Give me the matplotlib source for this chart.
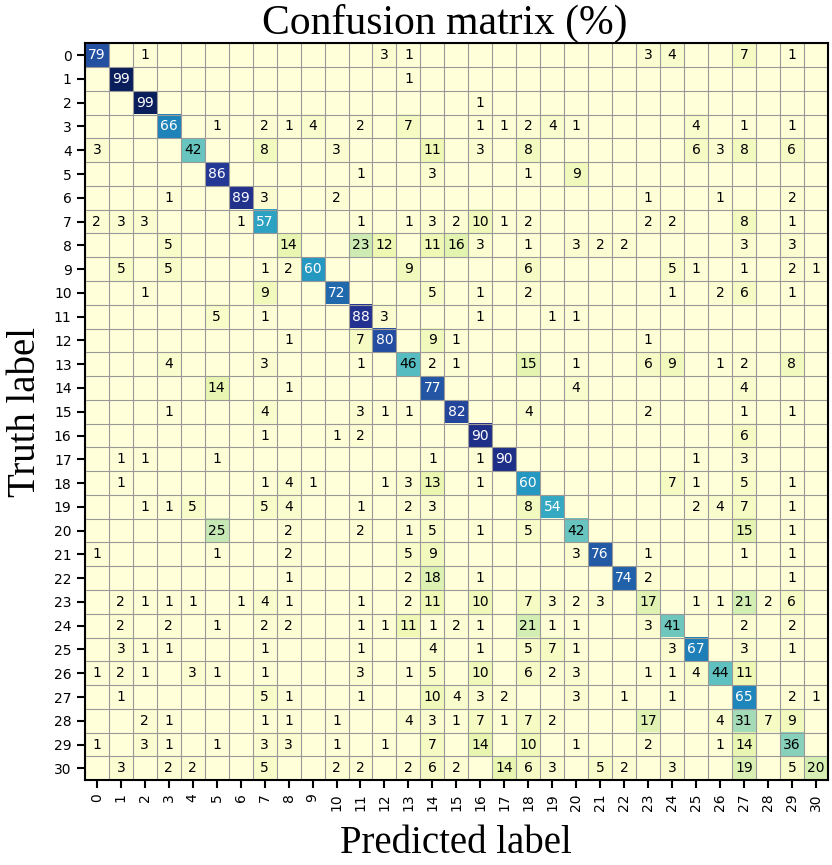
import numpy as np
import matplotlib
matplotlib.use("Agg")
import matplotlib.pyplot as plt

labels = [str(i) for i in range(31)]

# confusion matrix in percent, one row per truth label
cm = [
    [79, 0, 1, 0, 0, 0, 0, 0, 0, 0,  0, 0, 3, 1, 0, 0, 0, 0, 0, 0,  0, 0, 0, 3, 4, 0, 0, 7, 0, 1, 0],
    [0, 99, 0, 0, 0, 0, 0, 0, 0, 0,  0, 0, 0, 1, 0, 0, 0, 0, 0, 0,  0, 0, 0, 0, 0, 0, 0, 0, 0, 0, 0],
    [0, 0, 99, 0, 0, 0, 0, 0, 0, 0,  0, 0, 0, 0, 0, 0, 1, 0, 0, 0,  0, 0, 0, 0, 0, 0, 0, 0, 0, 0, 0],
    [0, 0, 0, 66, 0, 1, 0, 2, 1, 4,  0, 2, 0, 7, 0, 0, 1, 1, 2, 4,  1, 0, 0, 0, 0, 4, 0, 1, 0, 1, 0],
    [3, 0, 0, 0, 42, 0, 0, 8, 0, 0,  3, 0, 0, 0, 11, 0, 3, 0, 8, 0,  0, 0, 0, 0, 0, 6, 3, 8, 0, 6, 0],
    [0, 0, 0, 0, 0, 86, 0, 0, 0, 0,  0, 1, 0, 0, 3, 0, 0, 0, 1, 0,  9, 0, 0, 0, 0, 0, 0, 0, 0, 0, 0],
    [0, 0, 0, 1, 0, 0, 89, 3, 0, 0,  2, 0, 0, 0, 0, 0, 0, 0, 0, 0,  0, 0, 0, 1, 0, 0, 1, 0, 0, 2, 0],
    [2, 3, 3, 0, 0, 0, 1, 57, 0, 0,  0, 1, 0, 1, 3, 2, 10, 1, 2, 0,  0, 0, 0, 2, 2, 0, 0, 8, 0, 1, 0],
    [0, 0, 0, 5, 0, 0, 0, 0, 14, 0,  0, 23, 12, 0, 11, 16, 3, 0, 1, 0,  3, 2, 2, 0, 0, 0, 0, 3, 0, 3, 0],
    [0, 5, 0, 5, 0, 0, 0, 1, 2, 60,  0, 0, 0, 9, 0, 0, 0, 0, 6, 0,  0, 0, 0, 0, 5, 1, 0, 1, 0, 2, 1],
    [0, 0, 1, 0, 0, 0, 0, 9, 0, 0,  72, 0, 0, 0, 5, 0, 1, 0, 2, 0,  0, 0, 0, 0, 1, 0, 2, 6, 0, 1, 0],
    [0, 0, 0, 0, 0, 5, 0, 1, 0, 0,  0, 88, 3, 0, 0, 0, 1, 0, 0, 1,  1, 0, 0, 0, 0, 0, 0, 0, 0, 0, 0],
    [0, 0, 0, 0, 0, 0, 0, 0, 1, 0,  0, 7, 80, 0, 9, 1, 0, 0, 0, 0,  0, 0, 0, 1, 0, 0, 0, 0, 0, 0, 0],
    [0, 0, 0, 4, 0, 0, 0, 3, 0, 0,  0, 1, 0, 46, 2, 1, 0, 0, 15, 0,  1, 0, 0, 6, 9, 0, 1, 2, 0, 8, 0],
    [0, 0, 0, 0, 0, 14, 0, 0, 1, 0,  0, 0, 0, 0, 77, 0, 0, 0, 0, 0,  4, 0, 0, 0, 0, 0, 0, 4, 0, 0, 0],
    [0, 0, 0, 1, 0, 0, 0, 4, 0, 0,  0, 3, 1, 1, 0, 82, 0, 0, 4, 0,  0, 0, 0, 2, 0, 0, 0, 1, 0, 1, 0],
    [0, 0, 0, 0, 0, 0, 0, 1, 0, 0,  1, 2, 0, 0, 0, 0, 90, 0, 0, 0,  0, 0, 0, 0, 0, 0, 0, 6, 0, 0, 0],
    [0, 1, 1, 0, 0, 1, 0, 0, 0, 0,  0, 0, 0, 0, 1, 0, 1, 90, 0, 0,  0, 0, 0, 0, 0, 1, 0, 3, 0, 0, 0],
    [0, 1, 0, 0, 0, 0, 0, 1, 4, 1,  0, 0, 1, 3, 13, 0, 1, 0, 60, 0,  0, 0, 0, 0, 7, 1, 0, 5, 0, 1, 0],
    [0, 0, 1, 1, 5, 0, 0, 5, 4, 0,  0, 1, 0, 2, 3, 0, 0, 0, 8, 54,  0, 0, 0, 0, 0, 2, 4, 7, 0, 1, 0],
    [0, 0, 0, 0, 0, 25, 0, 0, 2, 0,  0, 2, 0, 1, 5, 0, 1, 0, 5, 0,  42, 0, 0, 0, 0, 0, 0, 15, 0, 1, 0],
    [1, 0, 0, 0, 0, 1, 0, 0, 2, 0,  0, 0, 0, 5, 9, 0, 0, 0, 0, 0,  3, 76, 0, 1, 0, 0, 0, 1, 0, 1, 0],
    [0, 0, 0, 0, 0, 0, 0, 0, 1, 0,  0, 0, 0, 2, 18, 0, 1, 0, 0, 0,  0, 0, 74, 2, 0, 0, 0, 0, 0, 1, 0],
    [0, 2, 1, 1, 1, 0, 1, 4, 1, 0,  0, 1, 0, 2, 11, 0, 10, 0, 7, 3,  2, 3, 0, 17, 0, 1, 1, 21, 2, 6, 0],
    [0, 2, 0, 2, 0, 1, 0, 2, 2, 0,  0, 1, 1, 11, 1, 2, 1, 0, 21, 1,  1, 0, 0, 3, 41, 0, 0, 2, 0, 2, 0],
    [0, 3, 1, 1, 0, 0, 0, 1, 0, 0,  0, 1, 0, 0, 4, 0, 1, 0, 5, 7,  1, 0, 0, 0, 3, 67, 0, 3, 0, 1, 0],
    [1, 2, 1, 0, 3, 1, 0, 1, 0, 0,  0, 3, 0, 1, 5, 0, 10, 0, 6, 2,  3, 0, 0, 1, 1, 4, 44, 11, 0, 0, 0],
    [0, 1, 0, 0, 0, 0, 0, 5, 1, 0,  0, 1, 0, 0, 10, 4, 3, 2, 0, 0,  3, 0, 1, 0, 1, 0, 0, 65, 0, 2, 1],
    [0, 0, 2, 1, 0, 0, 0, 1, 1, 0,  1, 0, 0, 4, 3, 1, 7, 1, 7, 2,  0, 0, 0, 17, 0, 0, 4, 31, 7, 9, 0],
    [1, 0, 3, 1, 0, 1, 0, 3, 3, 0,  1, 0, 1, 0, 7, 0, 14, 0, 10, 0,  1, 0, 0, 2, 0, 0, 1, 14, 0, 36, 0],
    [0, 3, 0, 2, 2, 0, 0, 5, 0, 0,  2, 2, 0, 2, 6, 2, 0, 14, 6, 3,  0, 5, 2, 0, 3, 0, 0, 19, 0, 5, 20],
]
cm = np.array(cm)

fig = plt.figure(figsize=(8.32, 8.65), dpi=100)
ax = fig.add_axes([0.102, 0.098, 0.893, 0.852])

ax.imshow(cm, cmap="YlGnBu", vmin=0, vmax=100, aspect="auto")

n = len(labels)
for i in range(n):
    for j in range(n):
        v = cm[i, j]
        if v > 0:
            ax.text(j, i, str(v), ha="center", va="center", fontsize=10,
                    color="white" if v > 50 else "black")

ax.set_xticks(range(n))
ax.set_yticks(range(n))
ax.set_xticklabels(labels, rotation=90, fontsize=10)
ax.set_yticklabels(labels, fontsize=10)
ax.set_xticks(np.arange(-0.5, n, 1), minor=True)
ax.set_yticks(np.arange(-0.5, n, 1), minor=True)
ax.grid(which="minor", color="#999999", linewidth=0.8)
ax.tick_params(which="minor", length=0)
ax.tick_params(which="major", length=6, width=1.5, direction="out")
for s in ax.spines.values():
    s.set_linewidth(1.5)

serif = "Liberation Serif"
ax.set_title("Confusion matrix (%)", fontsize=30, family=serif, pad=4, x=0.485)
ax.set_xlabel("Predicted label", fontsize=28, family=serif, labelpad=10)
ax.set_ylabel("Truth label", fontsize=28, family=serif, labelpad=7)

fig.savefig("out.png", dpi=100)
